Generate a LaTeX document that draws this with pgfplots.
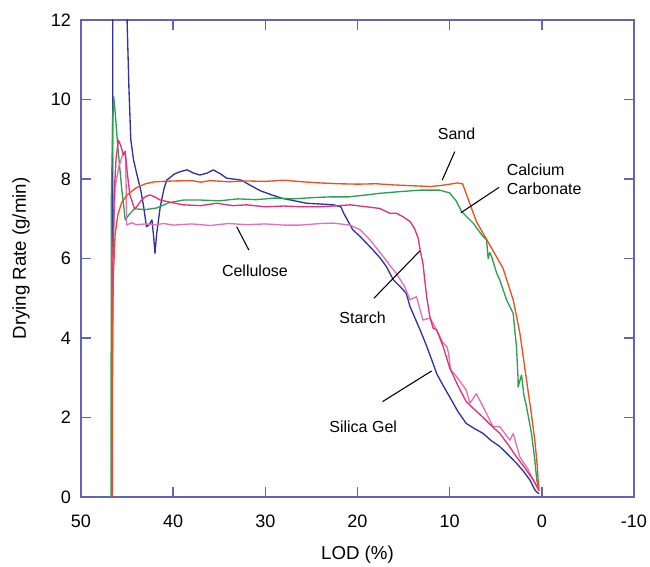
\documentclass[border=0pt]{standalone}
\usepackage{pgfplots}
\pgfplotsset{compat=1.18}
\usepackage{fontspec}
\setmainfont{Liberation Sans}

\definecolor{axisblue}{RGB}{100,100,180}
\definecolor{sand}{RGB}{235,80,30}
\definecolor{caco}{RGB}{44,160,80}
\definecolor{silica}{RGB}{50,50,160}
\definecolor{starch}{RGB}{225,50,120}
\definecolor{cellu}{RGB}{228,112,182}

\begin{document}
\begin{tikzpicture}
\useasboundingbox (-60.75pt,-52.5pt) rectangle (426.75pt,372.75pt);
\begin{axis}[
  scale only axis,
  width=414.75pt, height=357.75pt,
  x dir=reverse,
  xmin=-10, xmax=50, ymin=0, ymax=12,
  xtick={50,40,30,20,10,0,-10},
  xticklabels={50,40,30,20,10,0,-10},
  ytick={0,2,...,12},
  yticklabels={0,2,4,6,8,10,12},
  tick align=inside,
  major tick length=7.5pt,
  axis line style={axisblue, line width=1.2pt},
  every tick/.style={axisblue, line width=1.2pt},
  tick label style={font=\fontsize{13.5}{16}\selectfont},
  xticklabel style={yshift=-10pt},
  yticklabel style={xshift=-4pt},
  xlabel={LOD (\%)},
  ylabel={Drying Rate (g/min)},
  label style={font=\fontsize{14}{17}\selectfont},
  xlabel style={yshift=-7pt},
  ylabel style={yshift=9pt},
  clip=true,
  every axis plot/.append style={line width=1pt, no markers, line join=round},
]
% Silica gel
\addplot[silica] coordinates {
(46.6,0) (46.55,13) (45.1,13) (45.0,12) (44.8,10.3) (44.6,9.0) (44.3,8.48)
(43.96,8.14) (43.5,7.7) (43.2,7.3) (42.9,6.8) (42.6,6.85) (42.3,6.97) (42.1,6.5)
(41.97,6.13) (41.8,6.6) (41.4,7.3) (41.0,7.75) (40.7,7.97) (39.9,8.12) (39.3,8.18)
(38.5,8.23) (37.8,8.15) (37.1,8.1) (36.3,8.15) (35.65,8.23) (34.8,8.12) (34.2,8.02)
(33.5,8.0) (32.6,7.97) (31.7,7.85) (30.5,7.7) (29.3,7.6) (28.1,7.51) (26.8,7.45)
(25.5,7.39) (24,7.37) (22.6,7.35) (21.8,7.3) (21.5,7.14) (21.0,6.93) (20.5,6.72)
(19.7,6.55) (18.3,6.21) (17.5,6.0) (16.85,5.79) (16.1,5.46) (15.4,5.3) (14.7,5.12)
(14.3,4.79) (13.2,4.2) (12.5,3.8) (11.8,3.36) (11.4,3.1) (10.7,2.8) (10.0,2.52)
(9.1,2.15) (8.2,1.85) (7.3,1.72) (6.37,1.6) (5.5,1.42) (4.56,1.27) (3.6,1.05)
(2.75,0.85) (2.0,0.65) (1.3,0.43) (0.8,0.2) (0.58,0.13) (0.3,0.08)
};
% Calcium carbonate
\addplot[caco] coordinates {
(46.75,0) (46.7,7.6) (46.55,9.5) (46.45,10.07) (46.3,9.7) (46.0,8.8) (45.6,7.8)
(45.2,6.97) (44.8,7.1) (44.2,7.25) (43.0,7.23) (41.8,7.27) (40.5,7.4) (38.9,7.47)
(37,7.47) (35,7.45) (33,7.5) (31,7.48) (29,7.52) (27,7.5) (25,7.53) (23,7.55)
(21,7.55) (19,7.6) (17.6,7.64) (15.5,7.68) (13.2,7.72) (11.1,7.72) (10.0,7.65)
(9.3,7.45) (8.7,7.18) (7.45,6.89) (6.37,6.55) (6.0,6.47) (5.82,6.0) (5.65,6.15)
(5.45,6.05) (4.9,5.63) (4.56,5.46) (3.83,4.96) (3.11,4.62) (2.75,3.78) (2.57,2.94)
(2.57,2.77) (2.2,3.07) (1.95,2.57) (1.66,2.27) (1.12,1.6) (0.76,0.93) (0.55,0.43)
(0.33,0.18)
};
% Cellulose
\addplot[cellu] coordinates {
(46.65,0) (46.55,6) (46.3,7.8) (45.9,8.3) (45.5,8.6) (45.2,8.7) (45.1,7.8)
(45.05,6.84) (44.5,6.9) (44,6.85) (43,6.87) (42,6.85) (41,6.88) (40,6.84)
(38,6.87) (36,6.83) (34,6.88) (32,6.85) (30,6.87) (28,6.84) (26.25,6.84)
(24,6.88) (22.6,6.89) (20.8,6.84) (19.7,6.72) (18.65,6.47) (17.2,6.05) (16.1,5.71)
(15.8,5.63) (14.9,5.3) (14.3,4.96) (13.6,5.04) (12.9,4.45) (12.15,4.5) (11.8,4.37)
(10.7,3.87) (10.3,3.78) (10.1,3.6) (9.9,3.2) (9.25,3.03) (8.2,2.69) (7.8,2.36)
(7.1,2.6) (6.0,2.1) (5.3,1.77) (4.56,1.77) (3.47,1.43) (3.1,1.6) (2.39,1.01)
(1.5,0.7) (0.94,0.43) (0.5,0.25) (0.3,0.2)
};
% Starch
\addplot[starch] coordinates {
(46.65,0) (46.6,5) (46.4,7.6) (46.2,8.5) (45.95,8.98) (45.7,8.85) (45.4,8.6)
(45.2,8.69) (45.0,8.2) (44.7,7.6) (44.5,7.47) (44.2,7.25) (43.96,7.3) (43.5,7.45)
(43.0,7.56) (42.5,7.6) (42.0,7.55) (41.4,7.47) (40,7.4) (38.9,7.35) (37,7.33)
(35.3,7.39) (33.5,7.33) (32.0,7.35) (30,7.3) (28,7.32) (26,7.3) (24,7.3) (22,7.33)
(20.8,7.35) (19,7.3) (17.6,7.26) (16.5,7.14) (15.8,7.14) (15.05,7.05) (14.3,6.93)
(13.8,6.75) (13.4,6.5) (13.2,6.2) (12.9,5.88) (12.5,5.04) (12.15,4.54) (11.8,4.25)
(11.4,4.2) (10.7,3.78) (10.0,3.25) (9.1,2.8) (8.2,2.4) (7.3,2.2) (6.37,2.0)
(5.5,1.8) (4.56,1.6) (3.6,1.3) (2.75,1.01) (1.8,0.72) (0.94,0.43) (0.5,0.25) (0.3,0.15)
};
% Sand
\addplot[sand] coordinates {
(46.65,0) (46.6,3) (46.5,5.5) (46.3,6.6) (46.0,7.1) (45.6,7.4) (45.0,7.6)
(44.0,7.78) (43.0,7.88) (42.0,7.93) (40.0,7.95) (38.0,7.96) (37.0,7.92) (36.0,7.96)
(34.0,7.93) (32.0,7.95) (30.0,7.94) (28.0,7.97) (26.0,7.93) (24.0,7.9) (22.0,7.88)
(20.0,7.87) (18.0,7.88) (16.0,7.85) (14.0,7.83) (12.0,7.81) (10.5,7.85) (9.2,7.9)
(8.6,7.88) (8.0,7.5) (7.1,6.93) (6.37,6.63) (5.3,6.2) (4.2,5.75) (3.11,4.96)
(2.74,4.54) (2.39,4.13) (2.0,3.5) (1.66,2.94) (1.2,2.2) (0.76,1.43) (0.5,0.8)
(0.4,0.43) (0.3,0.2)
};
% Callouts
\begin{scope}[font=\fontsize{12}{14}\selectfont]
\node at (axis cs:9.25,9.15) {Sand};
\draw[black, line width=0.8pt] (axis cs:9.44,8.69) -- (axis cs:10.81,7.97);
\node[anchor=west, align=left, inner sep=0pt] at (axis cs:3.83,8.0) {Calcium\\Carbonate};
\draw[black, line width=0.8pt] (axis cs:4.63,7.79) -- (axis cs:8.79,7.15);
\node at (axis cs:31.13,5.69) {Cellulose};
\draw[black, line width=0.8pt] (axis cs:33.11,6.8) -- (axis cs:31.78,6.21);
\node at (axis cs:19.45,4.5) {Starch};
\draw[black, line width=0.8pt] (axis cs:18.22,5.0) -- (axis cs:13.23,6.19);
\node at (axis cs:19.38,1.77) {Silica Gel};
\draw[black, line width=0.8pt] (axis cs:17.28,2.40) -- (axis cs:11.96,3.17);
\end{scope}
\end{axis}
\end{tikzpicture}
\end{document}
